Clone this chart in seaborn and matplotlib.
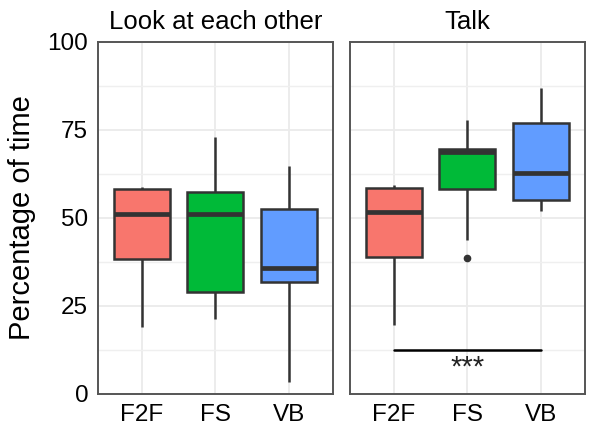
import matplotlib
matplotlib.use("Agg")
import matplotlib.pyplot as plt
from matplotlib.ticker import MultipleLocator
import seaborn as sns
import pandas as pd

# five-number summaries (whisker low, Q1, median, Q3, whisker high)
conditions = ["F2F", "FS", "VB"]
panels = ["Look at each other", "Talk"]
palette = {"F2F": "#F8766D", "FS": "#00BA38", "VB": "#619CFF"}

look_low = [19.1, 21.3, 3.5]
look_q1 = [38.4, 29.1, 31.9]
look_med = [51.1, 51.1, 35.9]
look_q3 = [58.1, 57.3, 52.5]
look_high = [58.9, 73.1, 64.8]
look_fliers = [[], [], []]

talk_low = [19.6, 43.8, 52.0]
talk_q1 = [39.0, 58.1, 55.1]
talk_med = [51.7, 68.8, 62.9]
talk_q3 = [58.4, 69.6, 76.9]
talk_high = [59.4, 77.7, 86.8]
talk_fliers = [[], [38.5], []]

sig_y = 12.5
sig_label = "***"

yticks = [0, 25, 50, 75, 100]


def summary_points(lo, q1, med, q3, hi, fliers):
    # nine points whose linear quantiles give back the summary
    pts = [lo, lo, q1, q1, med, q3, q3, hi, hi]
    for i, f in enumerate(fliers):
        pts[i] = f
    return pts


rows = []
series = {
    "Look at each other": (look_low, look_q1, look_med, look_q3, look_high, look_fliers),
    "Talk": (talk_low, talk_q1, talk_med, talk_q3, talk_high, talk_fliers),
}
for panel, (lo, q1, med, q3, hi, fl) in series.items():
    for i, cond in enumerate(conditions):
        for v in summary_points(lo[i], q1[i], med[i], q3[i], hi[i], fl[i]):
            rows.append({"panel": panel, "condition": cond, "value": v})
df = pd.DataFrame(rows)

sns.set_style("white")
plt.rcParams["font.family"] = ["Liberation Sans", "DejaVu Sans"]
plt.rcParams["text.color"] = "black"

fig = plt.figure(figsize=(5.9, 4.32), dpi=100)
ax1 = fig.add_axes([0.166, 0.088, 0.398, 0.815])
ax2 = fig.add_axes([0.593, 0.088, 0.398, 0.815])

for ax, panel in zip([ax1, ax2], panels):
    sub = df[df["panel"] == panel]
    ax.set_axisbelow(True)
    sns.boxplot(
        data=sub, x="condition", y="value", hue="condition", order=conditions,
        palette=palette, legend=False, ax=ax, width=0.76, saturation=1,
        linecolor="#333333", linewidth=1.8, whis=1.5, showcaps=False,
        medianprops={"linewidth": 3.4, "color": "#333333"},
        flierprops={"marker": "o", "markerfacecolor": "#333333",
                    "markeredgecolor": "#333333", "markersize": 4.5},
    )
    ax.set_xlim(-0.6, 2.6)
    ax.set_ylim(0, 100)
    ax.set_yticks(yticks)
    ax.yaxis.set_minor_locator(MultipleLocator(12.5))
    ax.grid(True, which="major", color="#EBEBEB", linewidth=1.3)
    ax.grid(True, which="minor", axis="y", color="#EFEFEF", linewidth=1.0)
    for s in ax.spines.values():
        s.set_visible(True)
        s.set_color("#555555")
        s.set_linewidth(1.4)
    ax.tick_params(axis="both", which="both", length=0, labelsize=17.5, pad=7,
                   labelcolor="black")
    ax.set_xlabel("")
    ax.set_ylabel("")
    ax.set_title(panel, fontsize=18.5, pad=9, color="black")

ax1.set_ylabel("Percentage of time", fontsize=21, labelpad=8, color="black")
ax2.set_yticklabels([])

# significance bar F2F - VB in the Talk panel
ax2.plot([0, 2], [sig_y, sig_y], color="black", linewidth=1.8)
ax2.text(1, sig_y - 1.0, sig_label, ha="center", va="top", fontsize=21,
         color="#222222")

fig.savefig("out.png", dpi=100)
